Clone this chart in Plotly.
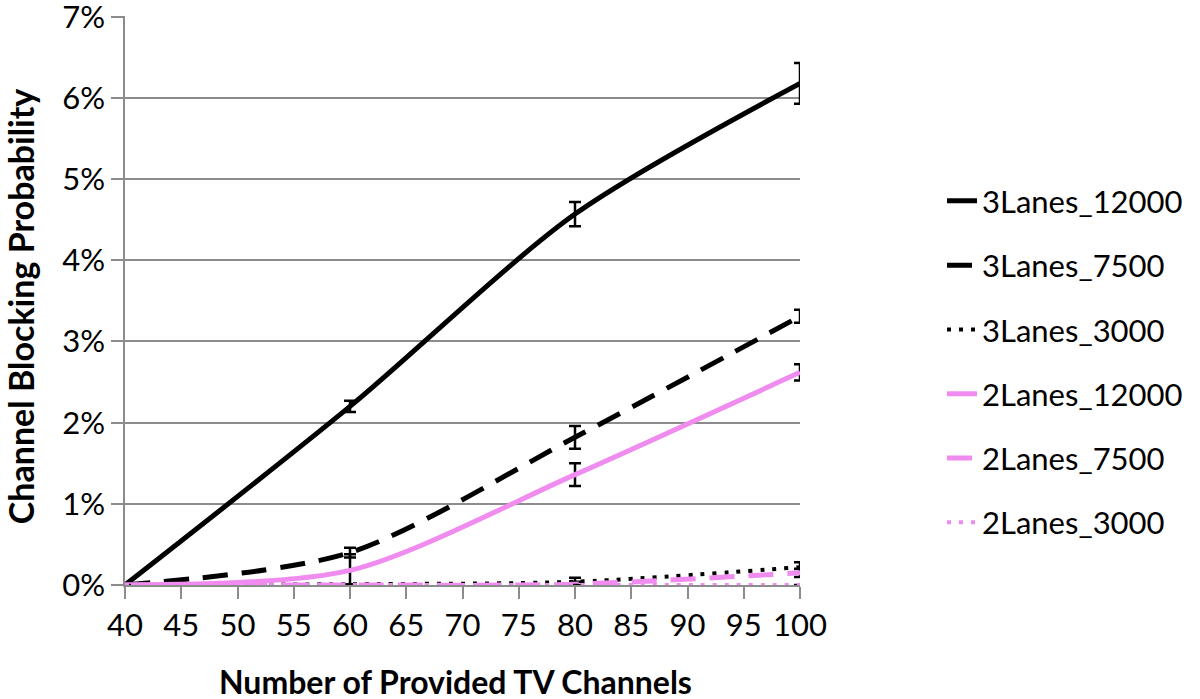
import plotly.graph_objects as go

channels = [40, 60, 80, 100]

lanes3_12000 = [0.0, 0.0220, 0.0457, 0.0618]
lanes3_12000_err = [0.0, 0.0007, 0.0015, 0.0025]
lanes3_7500 = [0.0, 0.0040, 0.0182, 0.0331]
lanes3_7500_err = [0.0, 0.0006, 0.0014, 0.0008]
lanes3_3000 = [0.0, 0.0001, 0.0004, 0.0022]
lanes3_3000_err = [0.0, 0.0, 0.0005, 0.0006]
lanes2_12000 = [0.0, 0.0018, 0.0136, 0.0262]
lanes2_12000_err = [0.0, 0.0020, 0.0014, 0.0010]
lanes2_7500 = [0.0, 0.0, 0.0001, 0.0015]
lanes2_7500_err = [0.0, 0.0, 0.0003, 0.0005]
lanes2_3000 = [0.0, 0.0, 0.0, 0.0]
lanes2_3000_err = [0.0, 0.0, 0.0, 0.0]

y_ticks = [0.0, 0.01, 0.02, 0.03, 0.04, 0.05, 0.06, 0.07]
y_tick_labels = ["0%", "1%", "2%", "3%", "4%", "5%", "6%", "7%"]
x_ticks = [40, 45, 50, 55, 60, 65, 70, 75, 80, 85, 90, 95, 100]

names = ["3Lanes_12000", "3Lanes_7500", "3Lanes_3000",
         "2Lanes_12000", "2Lanes_7500", "2Lanes_3000"]
values = [lanes3_12000, lanes3_7500, lanes3_3000,
          lanes2_12000, lanes2_7500, lanes2_3000]
errors = [lanes3_12000_err, lanes3_7500_err, lanes3_3000_err,
          lanes2_12000_err, lanes2_7500_err, lanes2_3000_err]

BLACK = "#000000"
PINK = "#F08CF0"
styles = [
    dict(color=BLACK, width=5, dash="solid"),
    dict(color=BLACK, width=5, dash="25px,14px"),
    dict(color=BLACK, width=4, dash="4px,8px"),
    dict(color=PINK, width=5, dash="solid"),
    dict(color=PINK, width=5, dash="25px,14px"),
    dict(color=PINK, width=4, dash="4px,8px"),
]

FONT = "Lato, 'Open Sans', sans-serif"

fig = go.Figure()
for i, (n, v, e, s) in enumerate(zip(names, values, errors, styles)):
    fig.add_trace(go.Scatter(
        x=channels, y=v, name=n, mode="lines",
        line=dict(color=s["color"], width=s["width"], dash=s["dash"], shape="spline", smoothing=0.8),
        error_y=dict(type="data", array=e, visible=True, color="black", thickness=2.5, width=6),
        legendgroup=f"g{i}",
    ))

fig.update_layout(
    width=1200, height=699,
    paper_bgcolor="white", plot_bgcolor="white",
    margin=dict(l=125, r=400, t=16, b=114, autoexpand=False),
    font=dict(family=FONT, color="black"),
    showlegend=True,
    legend=dict(
        x=1.2104, y=0.722, xanchor="left", yanchor="top",
        font=dict(family=FONT, size=31, color="black"),
        traceorder="grouped", tracegroupgap=21,
        bgcolor="rgba(0,0,0,0)",
    ),
    xaxis=dict(
        range=[40, 100], tickmode="array", tickvals=x_ticks,
        showgrid=False, showline=True, linecolor="#8c8c8c", linewidth=1.5,
        ticks="outside", ticklen=12, tickcolor="#8c8c8c", tickwidth=1.5,
        tickfont=dict(family=FONT, size=31, color="black"),
        zeroline=False, automargin=False, ticklabeloverflow="allow",
    ),
    yaxis=dict(
        range=[0, 0.0701], tickmode="array", tickvals=y_ticks, ticktext=y_tick_labels,
        showgrid=True, gridcolor="#8c8c8c", gridwidth=1.5,
        showline=True, linecolor="#8c8c8c", linewidth=1.5,
        ticks="outside", ticklen=12, tickcolor="#8c8c8c", tickwidth=1.5,
        tickfont=dict(family=FONT, size=31, color="black"),
        zeroline=False, automargin=False, ticklabeloverflow="allow",
    ),
    annotations=[
        dict(text="<b>Number of Provided TV Channels</b>", xref="paper", yref="paper",
             x=0.489, y=-0.170, xanchor="center", yanchor="middle", showarrow=False,
             font=dict(family=FONT, size=32, color="black")),
        dict(text="<b>Channel Blocking Probability</b>", xref="paper", yref="paper",
             x=-0.1556, y=0.49, xanchor="center", yanchor="middle", showarrow=False,
             textangle=-90, font=dict(family=FONT, size=34, color="black")),
    ],
)

fig.write_html("out.html", config={"displayModeBar": False},
               post_script="document.body.style.margin='0px';document.body.style.overflow='hidden';")
